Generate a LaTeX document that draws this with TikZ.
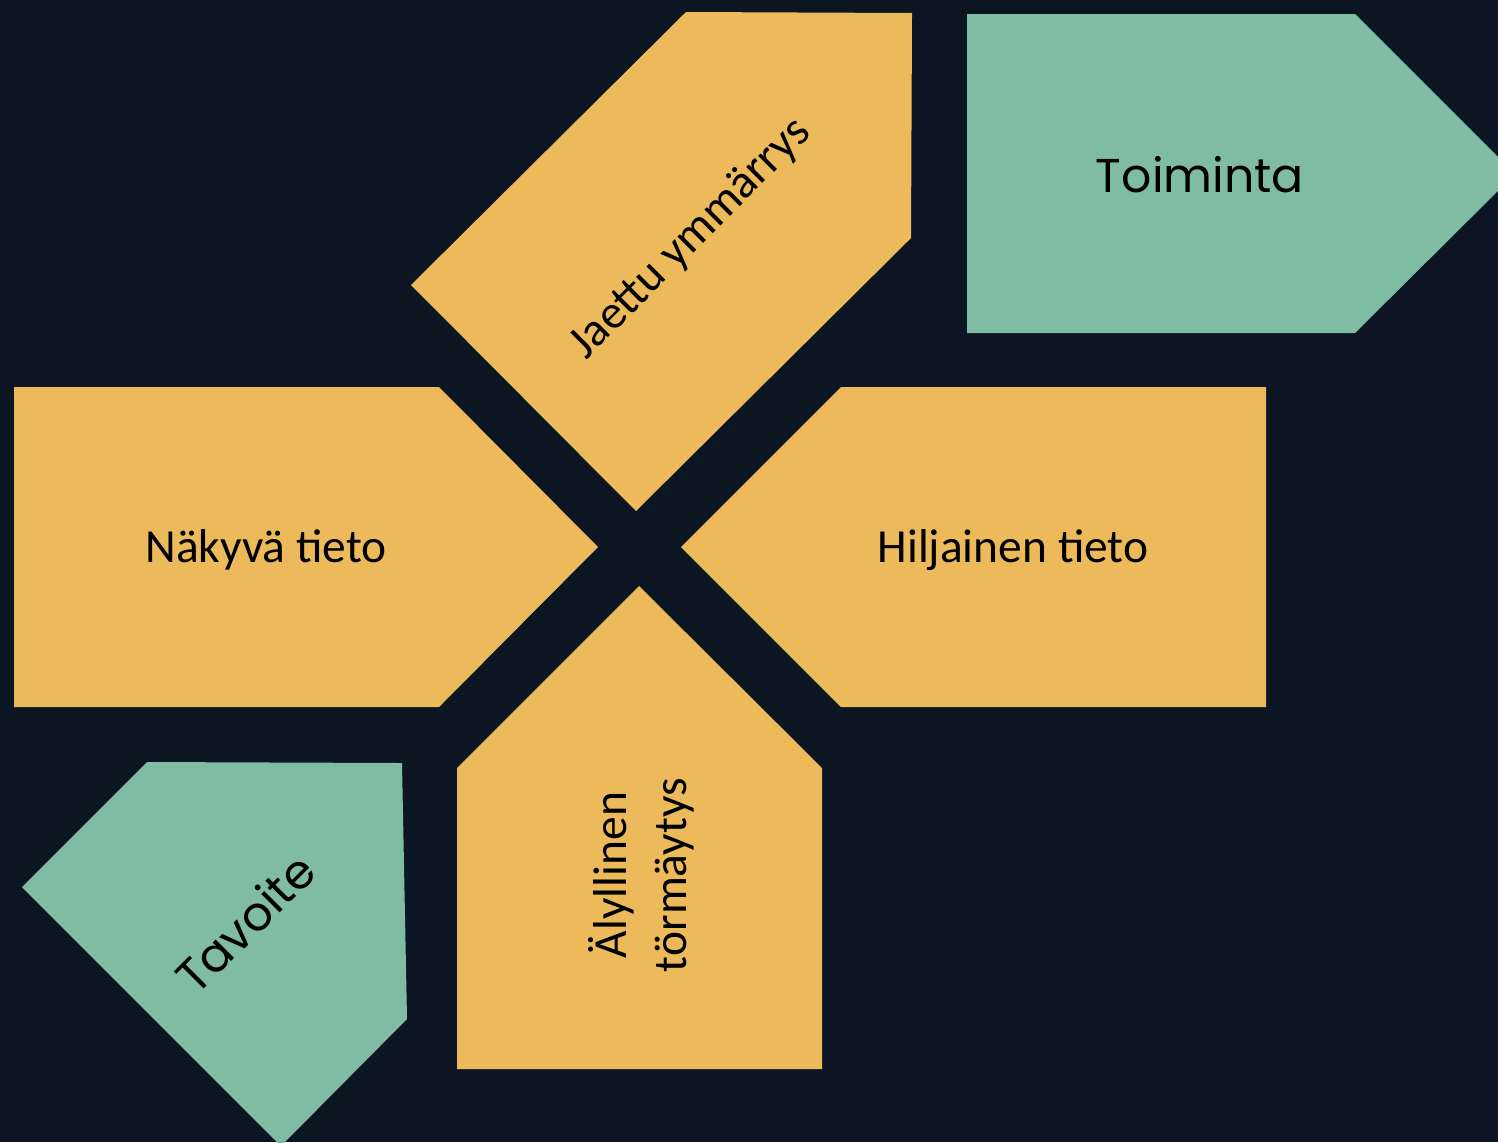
\documentclass[tikz,border=0pt]{standalone}
\usepackage{fontspec}
\setmainfont{Carlito}
\newfontfamily\roundfont{Poppins}
\definecolor{night}{HTML}{0B1622}
\definecolor{sun}{HTML}{ECBA5A}
\definecolor{sage}{HTML}{80BCA3}
\tikzset{
  sunpiece/.style={fill=sun},
  sagepiece/.style={fill=sage},
  plaintext/.style={text=black, font=\fontsize{13.5}{17}\selectfont, align=center},
  roundtext/.style={text=black, font=\roundfont\fontsize{13.5}{17}\selectfont}
}
\begin{document}
\begin{tikzpicture}[x=0.01cm, y=-0.01cm]
		\fill [night] (0,0) rectangle (1498,1142);
		\useasboundingbox (0,0) rectangle (1498,1142);
		\clip (0,0) rectangle (1498,1142);
		%top
			%shared understanding
			\fill [sunpiece] (686,12) -- (912,13) -- (911,238) -- (636,511) -- (411,285) -- cycle;
			\node [plaintext, rotate=45] (jaettu) at (691,239) {Jaettu ymmärrys};
			%action
			\fill [sagepiece] (967,14) -- (1355,14) -- (1515,174) -- (1355,333) -- (967,333) -- cycle;
			\node [roundtext] (toiminta) at (1200,175) {Toiminta};
		%middle
			%explicit knowledge
			\fill [sunpiece] (14,387) -- (439,387) -- (598,547) -- (439,707) -- (14,707) -- cycle;
			\node [plaintext] (nakyva) at (266,550) {Näkyvä tieto};
			%tacit knowledge
			\fill [sunpiece] (841,387) -- (1266,387) -- (1266,707) -- (841,707) -- (681,547) -- cycle;
			\node [plaintext] (hiljainen) at (1013,550) {Hiljainen tieto};
		%bottom
			%goal
			\fill [sagepiece] (147,762) -- (402,763) -- (407,1019) -- (281,1146) -- (22,887) -- cycle;
			\node [roundtext, rotate=45] (tavoite) at (245,923) {Tavoite};
			%collision
			\fill [sunpiece] (639,586) -- (822,768) -- (822,1069) -- (457,1069) -- (457,768) -- cycle;
			\node [plaintext, rotate=90] (alyllinen) at (641,875) {Älyllinen\\törmäytys};
\end{tikzpicture}
\end{document}
